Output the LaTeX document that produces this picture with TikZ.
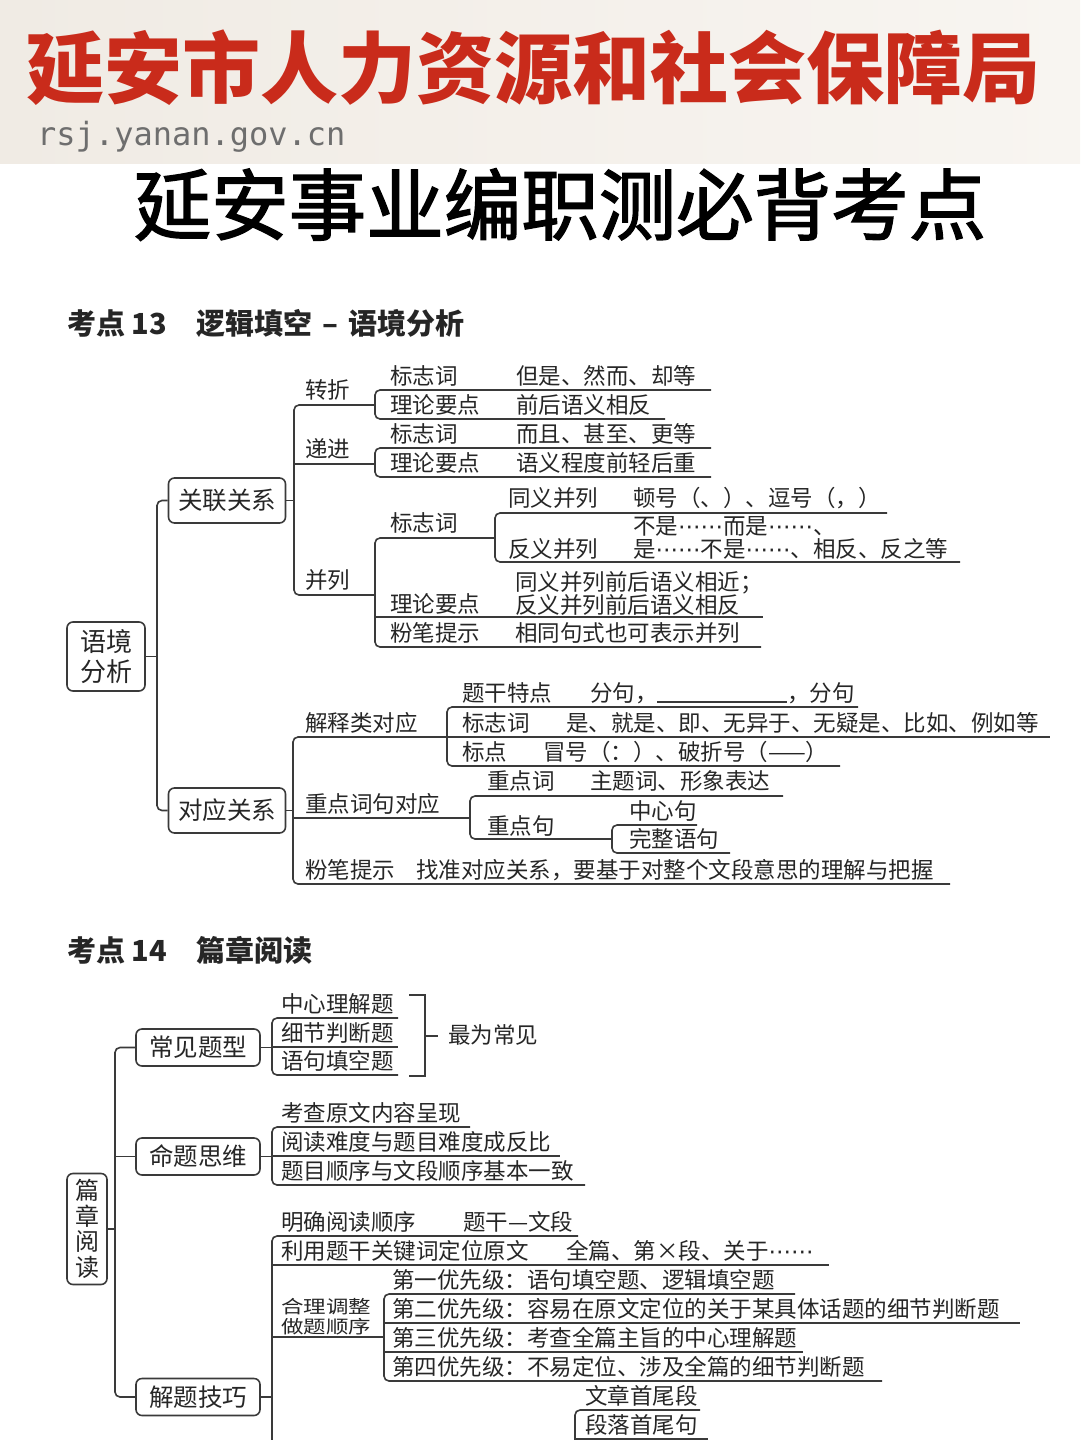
\documentclass[tikz,border=0pt]{standalone}
\usepackage{fontspec}
\setmainfont{Noto Sans CJK SC}
\newfontfamily\cjkmed[FakeBold=1.8]{Noto Sans CJK SC}
\newfontfamily\urlfont{DejaVu Sans Mono}
\newfontfamily\dvs{DejaVu Sans}
\newcommand\mdots{{\dvs ⋯⋯}}
\definecolor{redc}{HTML}{C92B1B}
\definecolor{lc}{HTML}{3A3A3A}
\definecolor{tc}{HTML}{262626}
\definecolor{hdr}{HTML}{F0EBE4}
\definecolor{hdrb}{HTML}{F8F5F1}
\definecolor{urlc}{HTML}{6E6E6E}
\tikzset{
  ln/.style={draw=lc, line width=1.6pt},
  rc/.style={ln, rounded corners=5pt},
  txt/.style={anchor=base west, inner sep=0pt, text=tc, font=\fontsize{22.5}{24}\selectfont},
  boxn/.style={draw=lc, line width=1.6pt, rounded corners=6pt, inner sep=0pt, text=tc, font=\fontsize{24.5}{26}\selectfont},
  head/.style={anchor=base west, inner sep=0pt, text=black!85, font=\fontsize{29}{30}\selectfont\bfseries},
}
\begin{document}
\begin{tikzpicture}[x=1pt,y=-1pt]
\useasboundingbox (0,0) rectangle (1080,1440);
\fill[white] (0,0) rectangle (1080,1440);
\shade[left color=hdr, right color=hdrb] (0,0) rectangle (1080,163);

% header
\node[anchor=base, inner sep=0pt, text=redc, font=\fontsize{78}{80}\selectfont\bfseries] (t1) at (533,97) {延安市人力资源和社会保障局};
\node[anchor=base west, inner sep=0pt, text=urlc, font=\urlfont\fontsize{32}{33}\selectfont] (url) at (37,145) {rsj.yanan.gov.cn};
\node[anchor=base, inner sep=0pt, text=black, font=\cjkmed\fontsize{77.5}{79}\selectfont] (t2) at (560,234) {延安事业编职测必背考点};

% ===== section 13 =====
\node[head] (h13) at (67,334) {考点 13\quad 逻辑填空\hspace{10pt}–\hspace{10pt}语境分析};

\node[boxn, align=center, minimum width=78pt, minimum height=69pt, font=\fontsize{26}{30}\selectfont] (root) at (106,656.5) {语境\\分析};
\node[boxn, minimum width=117pt, minimum height=45pt] (gl) at (227,500.5) {关联关系};
\node[boxn, minimum width=117pt, minimum height=45pt] (dy) at (227,810.5) {对应关系};

\draw[ln] (root.east) -- (157,656.5);
\draw[rc] (gl.west) -- (157,500.5) -- (157,810.5) -- (dy.west);

% 关联关系 branch
\draw[ln] (gl.east) -- (294,500.5);
\draw[rc] (375,405) -- (294,405) -- (294,595) -- (375,595);
\draw[ln] (294,464) -- (375,464);
\node[txt] (zz) at (305,398) {转折};
\node[txt] (dj) at (305,457) {递进};
\node[txt] (bl) at (305,588) {并列};

% 转折
\draw[rc] (711,390) -- (375,390) -- (375,419) -- (665,419);
\node[txt] (zz1) at (390,384) {标志词};
\node[txt] (zz1v) at (516,384) {但是、然而、却等};
\node[txt] (zz2) at (390,413) {理论要点};
\node[txt] (zz2v) at (516,413) {前后语义相反};

% 递进
\draw[rc] (711,448) -- (375,448) -- (375,477) -- (711,477);
\node[txt] (dj1) at (390,442) {标志词};
\node[txt] (dj1v) at (516,442) {而且、甚至、更等};
\node[txt] (dj2) at (390,471) {理论要点};
\node[txt] (dj2v) at (516,471) {语义程度前轻后重};

% 并列
\draw[rc] (495,538) -- (375,538) -- (375,647) -- (761,647);
\draw[ln] (375,617) -- (763,617);
\node[txt] (bl1) at (390,531) {标志词};
\draw[rc] (887,513) -- (495,513) -- (495,562) -- (960,562);
\node[txt] (ty) at (508,506) {同义并列};
\node[txt] (tyv) at (633,506) {顿号（、）、逗号（，）};
\node[txt] (fy) at (508,557) {反义并列};
\node[txt] (fyv1) at (633,534) {不是\mdots 而是\mdots 、};
\node[txt] (fyv2) at (633,557) {是\mdots 不是\mdots 、相反、反之等};
\node[txt] (bl2) at (390,612) {理论要点};
\node[txt] (bl2v1) at (515,590) {同义并列前后语义相近；};
\node[txt] (bl2v2) at (515,613) {反义并列前后语义相反};
\node[txt] (bl3) at (390,641) {粉笔提示};
\node[txt] (bl3v) at (515,641) {相同句式也可表示并列};

% 对应关系 branch
\draw[ln] (dy.east) -- (293,810.5);
\draw[rc] (447,737) -- (293,737) -- (293,884) -- (950,884);
\draw[ln] (293,818) -- (470,818);
\node[txt] (js) at (305,731) {解释类对应};
\node[txt] (zd) at (305,812) {重点词句对应};
\node[txt] (fb) at (305,878) {粉笔提示};
\node[txt] (fbv) at (416,878) {找准对应关系，要基于对整个文段意思的理解与把握};

% 解释类对应
\draw[rc] (858,707) -- (447,707) -- (447,766) -- (840,766);
\draw[ln] (447,737) -- (1050,737);
\node[txt] (js1) at (462,701) {题干特点};
\node[txt] (js1a) at (590,701) {分句，};
\coordinate (blankA) at (657,702);
\coordinate (blankB) at (787,702);
\draw[ln, line width=1.3pt] (blankA) -- (blankB);
\node[txt] (js1b) at (787,701) {，分句};
\node[txt] (js2) at (462,731) {标志词};
\node[txt] (js2v) at (566,731) {是、就是、即、无异于、无疑是、比如、例如等};
\node[txt] (js3) at (462,760) {标点};
\node[txt] (js3v) at (543,760) {冒号（：）、破折号（——）};

% 重点词句对应
\draw[rc] (783,796) -- (470,796) -- (470,839) -- (612,839);
\node[txt] (zd1) at (487,789) {重点词};
\node[txt] (zd1v) at (590,789) {主题词、形象表达};
\node[txt] (zd2) at (487,834) {重点句};
\draw[rc] (697,825) -- (612,825) -- (612,853) -- (730,853);
\node[txt] (zx) at (629,819) {中心句};
\node[txt] (wz) at (629,847) {完整语句};

% ===== section 14 =====
\node[head] (h14) at (67,961) {考点 14\quad 篇章阅读};

\node[boxn, align=center, minimum width=40pt, minimum height=111pt, font=\fontsize{24}{25.5}\selectfont] (pz) at (87,1229) {篇\\章\\阅\\读};
\node[boxn, minimum width=124pt, minimum height=37pt] (cj) at (198,1047.5) {常见题型};
\node[boxn, minimum width=124pt, minimum height=37pt] (mt) at (198,1156.5) {命题思维};
\node[boxn, minimum width=124pt, minimum height=37pt] (jt) at (198,1397) {解题技巧};

\draw[ln] (pz.east) -- (115,1229);
\draw[rc] (cj.west) -- (115,1047.5) -- (115,1397) -- (jt.west);
\draw[ln] (115,1156.5) -- (mt.west);

% 常见题型
\draw[ln] (cj.east) -- (272,1047.5);
\draw[rc] (398,1018) -- (272,1018) -- (272,1075) -- (398,1075);
\draw[ln] (272,1047) -- (398,1047);
\node[txt] (cj1) at (281,1012) {中心理解题};
\node[txt] (cj2) at (281,1041) {细节判断题};
\node[txt] (cj3) at (281,1069) {语句填空题};
\draw[ln] (409,995) -- (425,995) -- (425,1076) -- (409,1076);
\draw[ln] (425,1036) -- (438,1036);
\node[txt] (zwcj) at (448,1043) {最为常见};

% 命题思维
\draw[ln] (mt.east) -- (272,1156.5);
\draw[rc] (470,1127) -- (272,1127) -- (272,1185) -- (585,1185);
\draw[ln] (272,1156) -- (560,1156);
\node[txt] (mt1) at (281,1121) {考查原文内容呈现};
\node[txt] (mt2) at (281,1150) {阅读难度与题目难度成反比};
\node[txt] (mt3) at (281,1179) {题目顺序与文段顺序基本一致};

% 解题技巧
\draw[ln] (jt.east) -- (272,1397);
\draw[rc] (578,1236) -- (272,1236) -- (272,1450);
\draw[ln] (272,1265) -- (829,1265);
\draw[ln] (272,1337) -- (384,1337);
\node[txt] (jt1) at (281,1230) {明确阅读顺序};
\node[txt] (jt1v) at (463,1230) {题干—文段};
\node[txt] (jt2) at (281,1259) {利用题干关键词定位原文};
\node[txt] (jt2v) at (566,1259) {全篇、第×段、关于\mdots};
\node[txt] (jt3a) at (281,1313) {\scalebox{1}[0.8]{合理调整}};
\node[txt] (jt3b) at (281,1333) {\scalebox{1}[0.8]{做题顺序}};

\draw[rc] (795,1294) -- (384,1294) -- (384,1381) -- (882,1381);
\draw[ln] (384,1323) -- (1020,1323);
\draw[ln] (384,1352) -- (803,1352);
\node[txt] (p1) at (392,1288) {第一优先级：语句填空题、逻辑填空题};
\node[txt] (p2) at (392,1317) {第二优先级：容易在原文定位的关于某具体话题的细节判断题};
\node[txt] (p3) at (392,1346) {第三优先级：考查全篇主旨的中心理解题};
\node[txt] (p4) at (392,1375) {第四优先级：不易定位、涉及全篇的细节判断题};

\draw[rc] (700,1410) -- (575,1410) -- (575,1450);
\draw[ln] (575,1439) -- (708,1439);
\node[txt] (ws1) at (585,1404) {文章首尾段};
\node[txt] (ws2) at (585,1433) {段落首尾句};
\end{tikzpicture}
\end{document}
